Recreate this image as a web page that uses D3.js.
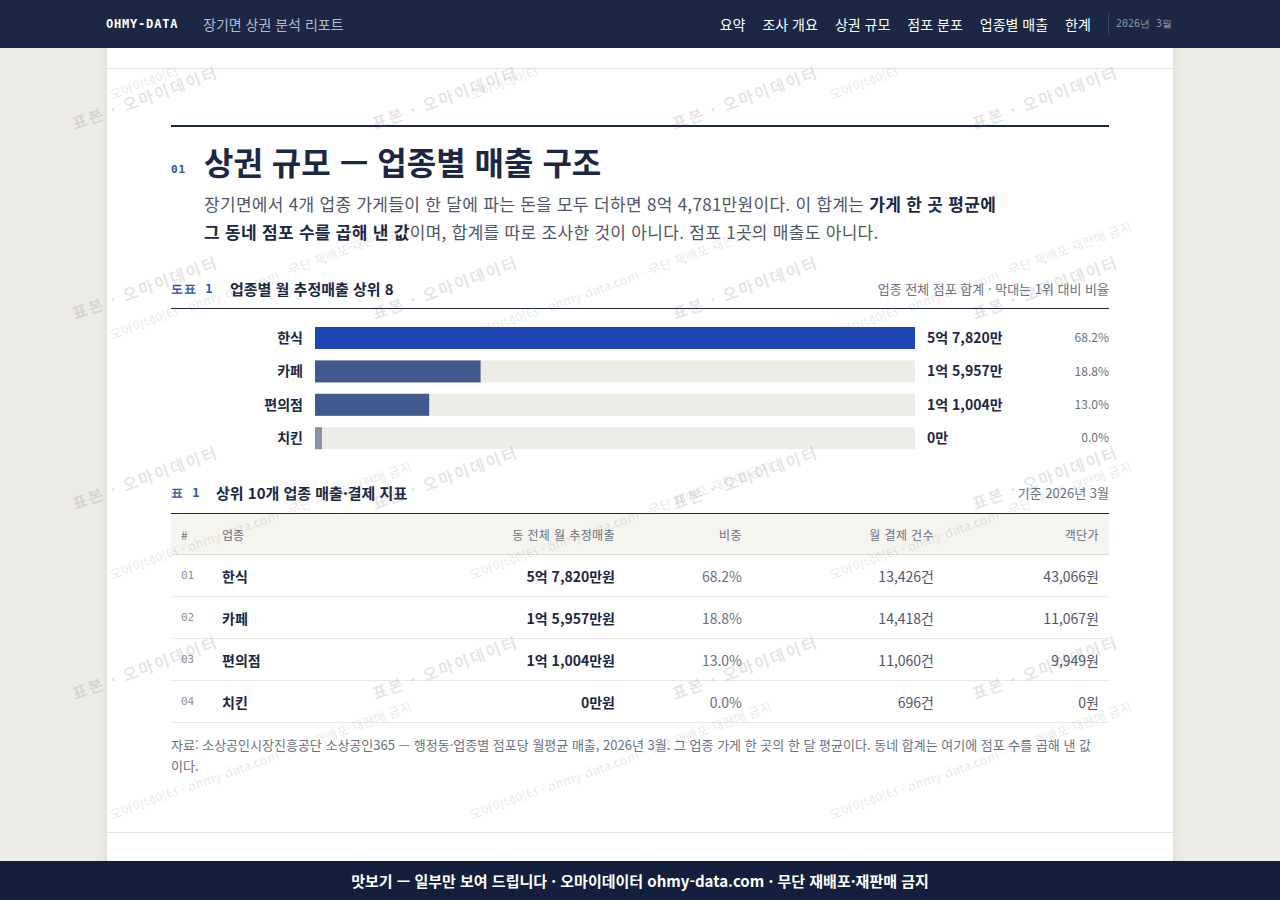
<!DOCTYPE html>
<html lang="ko">
<head>
<meta charset="utf-8">
<title>장기면 상권 분석 리포트</title>
<script src="https://cdn.jsdelivr.net/npm/d3@7"></script>
<style>
  body { margin: 0; width: 1280px; height: 900px; overflow: hidden; position: relative;
         background: #edebe6; font-family: "Noto Sans CJK KR", "Noto Sans", sans-serif; color: #1b2744; }
  .abs { position: absolute; }
  .mono { font-family: "DejaVu Sans Mono", monospace; }
  .topbar { left: 0; top: 0; width: 1280px; height: 48px; background: #1b2744; z-index: 10; }
  .brand { left: 106px; top: 0; line-height: 48px; font-weight: bold; font-size: 12px; letter-spacing: 0.8px; color: #fff; }
  .subtitle { left: 203px; top: 0; line-height: 48px; font-size: 14px; color: #b3bacb; }
  .nav { right: 108px; top: 0; height: 48px; display: flex; align-items: center; gap: 17px; font-size: 14px; color: #fff; }
  .nav .sep { width: 1px; height: 22px; background: #3b4868; margin-right: -10px; }
  .nav .date { font-size: 10px; color: #8c95aa; }
  .sheet { left: 107px; top: 48px; width: 1066px; height: 852px; background: #fff; box-shadow: 0 0 8px rgba(0,0,0,0.07); }
  .hair { height: 1px; background: #e6e3dc; }
  .rule { background: #1b2744; }
  .secno { left: 171px; top: 161px; font-size: 11px; font-weight: bold; color: #2b50b8; line-height: 18px; letter-spacing: 1px; }
  .title { left: 204px; top: 140px; font-size: 32px; font-weight: bold; line-height: 42px; color: #1b2744; margin: 0; white-space: nowrap; }
  .lead { left: 204px; top: 190px; width: 802px; font-size: 17px; line-height: 28px; letter-spacing: 0.3px; color: #50566a; margin: 0; word-break: keep-all; }
  .lead b { color: #1b2744; }
  .cap { font-size: 15px; font-weight: bold; line-height: 20px; color: #1b2744; }
  .capno { font-size: 12px; font-weight: bold; color: #2b50b8; letter-spacing: 1px; line-height: 20px; }
  .capnote { font-size: 13px; color: #6b7180; line-height: 20px; text-align: right; }
  table { border-collapse: collapse; width: 938px; border-top: 1px solid #1b2744; table-layout: fixed; }
  th { height: 40px; background: #f5f4ef; border-bottom: 1px solid #dedbd2; font-size: 12px; font-weight: normal; color: #6b7180; padding: 0 10px; }
  td { height: 41px; border-bottom: 1px solid #ebe8e2; font-size: 14px; padding: 0 10px; }
  .num { text-align: right; }
  .foot { left: 171px; top: 734px; width: 924px; font-size: 13px; line-height: 21px; color: #6b7180; margin: 0; }
  .footer { left: 0; top: 861px; width: 1280px; height: 39px; background: #141f3d; z-index: 10;
            color: #fff; font-size: 15px; font-weight: bold; line-height: 39px; text-align: center; }
  #watermark { left: 0; top: 48px; z-index: 5; pointer-events: none; }
</style>
</head>
<body>
<div class="abs sheet"></div>
<div class="abs topbar">
  <div class="abs brand mono">OHMY-DATA</div>
  <div class="abs subtitle">장기면 상권 분석 리포트</div>
  <div class="abs nav" id="nav"></div>
</div>

<div class="abs hair" style="left:107px; top:68px; width:1066px;"></div>
<div class="abs rule" style="left:171px; top:125px; width:938px; height:2px;"></div>
<div class="abs secno mono">01</div>
<h1 class="abs title">상권 규모 — 업종별 매출 구조</h1>
<p class="abs lead">장기면에서 4개 업종 가게들이 한 달에 파는 돈을 모두 더하면 8억 4,781만원이다. 이 합계는 <b>가게 한 곳 평균에 그 동네 점포 수를 곱해 낸 값</b>이며, 합계를 따로 조사한 것이 아니다. 점포 1곳의 매출도 아니다.</p>

<div class="abs capno mono" style="left:171px; top:279px;">도표 1</div>
<div class="abs cap" style="left:230px; top:279px;">업종별 월 추정매출 상위 8</div>
<div class="abs capnote" style="left:709px; top:279px; width:400px;">업종 전체 점포 합계 · 막대는 1위 대비 비율</div>
<div class="abs rule" style="left:171px; top:308px; width:938px; height:1px;"></div>
<div class="abs" id="chart" style="left:171px; top:309px;"></div>

<div class="abs capno mono" style="left:171px; top:483px;">표 1</div>
<div class="abs cap" style="left:216px; top:483px;">상위 10개 업종 매출·결제 지표</div>
<div class="abs capnote" style="left:709px; top:483px; width:400px;">기준 2026년 3월</div>
<div class="abs" id="table" style="left:171px; top:513px;"></div>

<p class="abs foot">자료: 소상공인시장진흥공단 소상공인365 — 행정동·업종별 점포당 월평균 매출, 2026년 3월. 그 업종 가게 한 곳의 한 달 평균이다. 동네 합계는 여기에 점포 수를 곱해 낸 값이다.</p>
<div class="abs hair" style="left:107px; top:832px; width:1066px;"></div>

<div class="abs footer">맛보기 — 일부만 보여 드립니다 · 오마이데이터 ohmy-data.com · 무단 재배포·재판매 금지</div>
<svg class="abs" id="watermark" width="1280" height="813"></svg>

<script>
// Chart data (매출 in 만원)
const categories = ["한식", "카페", "편의점", "치킨"];
const salesMan = [57820, 15957, 11004, 0];
const shares = [68.2, 18.8, 13.0, 0.0];
const payCounts = [13426, 14418, 11060, 696];
const unitPrices = [43066, 11067, 9949, 0];
const navItems = ["요약", "조사 개요", "상권 규모", "점포 분포", "업종별 매출", "한계"];
const tableHeaders = ["#", "업종", "동 전체 월 추정매출", "비중", "월 결제 건수", "객단가"];

const comma = d3.format(",");

// 57820 -> "5억 7,820만"
function formatMan(v) {
    const eok = Math.floor(v / 10000);
    const man = v % 10000;
    return eok > 0 ? `${eok}억 ${comma(man)}만` : `${comma(man)}만`;
}

// Header nav
const nav = d3.select("#nav");
nav.selectAll("span.item")
    .data(navItems)
    .enter()
    .append("span")
    .attr("class", "item")
    .text(d => d);
nav.append("span").attr("class", "sep");
nav.append("span").attr("class", "date mono").text("2026년 3월");

// Bar chart
const width = 938;
const height = 150;
const barLeft = 144;          // bar start, relative to chart
const barRight = 744;         // full-length bar end
const rows = categories.map((c, i) => ({ name: c, value: salesMan[i], share: shares[i], rank: i }));

const x = d3.scaleLinear()
    .domain([0, d3.max(salesMan)])
    .range([0, barRight - barLeft]);

// 22px bars on a ~33.4px step, first bar 18px under the rule
const y = d3.scaleBand()
    .domain(categories)
    .range([18, 140.2])
    .paddingInner(0.341)
    .paddingOuter(0);

const svg = d3.select("#chart")
    .append("svg")
    .attr("width", width)
    .attr("height", height)
    .style("font-family", "'Noto Sans CJK KR', sans-serif");

const row = svg.selectAll("g.row")
    .data(rows)
    .enter()
    .append("g")
    .attr("class", "row")
    .attr("transform", d => `translate(0, ${y(d.name)})`);

// background track
row.append("rect")
    .attr("x", barLeft)
    .attr("width", barRight - barLeft)
    .attr("height", y.bandwidth())
    .attr("fill", "#eeece7");

// value bar
row.append("rect")
    .attr("x", barLeft)
    .attr("width", d => Math.max(x(d.value), 7))
    .attr("height", y.bandwidth())
    .attr("fill", d => d.rank === 0 ? "#1c46b5" : (d.value === 0 ? "#8a92a7" : "#42598f"));

// category label
row.append("text")
    .attr("x", barLeft - 12)
    .attr("y", y.bandwidth() / 2)
    .attr("dy", "0.35em")
    .attr("text-anchor", "end")
    .attr("font-size", 14)
    .attr("font-weight", "bold")
    .attr("fill", "#1b2744")
    .text(d => d.name);

// value label
row.append("text")
    .attr("x", barRight + 12)
    .attr("y", y.bandwidth() / 2)
    .attr("dy", "0.35em")
    .attr("font-size", 14)
    .attr("font-weight", "bold")
    .attr("fill", "#1b2744")
    .text(d => formatMan(d.value));

// share label
row.append("text")
    .attr("x", width)
    .attr("y", y.bandwidth() / 2)
    .attr("dy", "0.35em")
    .attr("text-anchor", "end")
    .attr("font-size", 12)
    .attr("fill", "#6b7180")
    .text(d => d.share.toFixed(1) + "%");

// Table
const table = d3.select("#table").append("table");
const colWidths = [41, 180, 233, 127, 192, 165];
table.append("colgroup")
    .selectAll("col")
    .data(colWidths)
    .enter()
    .append("col")
    .style("width", d => d + "px");

table.append("thead").append("tr")
    .selectAll("th")
    .data(tableHeaders)
    .enter()
    .append("th")
    .style("text-align", (d, i) => i >= 2 ? "right" : "left")
    .style("letter-spacing", (d, i) => i >= 2 ? "0.4px" : null)
    .text(d => d);

const tr = table.append("tbody")
    .selectAll("tr")
    .data(rows)
    .enter()
    .append("tr");

tr.append("td").attr("class", "mono")
    .style("font-size", "11px").style("color", "#8a8f9b")
    .text(d => String(d.rank + 1).padStart(2, "0"));
tr.append("td").style("font-weight", "bold").style("color", "#1b2744")
    .text(d => d.name);
tr.append("td").attr("class", "num").style("font-weight", "bold").style("color", "#1b2744")
    .text(d => formatMan(d.value) + "원");
tr.append("td").attr("class", "num").style("color", "#6b7180")
    .text(d => d.share.toFixed(1) + "%");
tr.append("td").attr("class", "num").style("color", "#50566a")
    .text(d => comma(payCounts[d.rank]) + "건");
tr.append("td").attr("class", "num").style("color", "#50566a")
    .text(d => comma(unitPrices[d.rank]) + "원");

// Watermark overlay (tiled, rotated text); svg starts under the top bar
const wm = d3.select("#watermark");
const offsetY = 48;
const bigMarks = [];
for (let gx = 75; gx < 1100; gx += 300) {
    for (let gy = 130; gy < 860; gy += 190) bigMarks.push([gx, gy - offsetY]);
}
wm.selectAll("text.big")
    .data(bigMarks)
    .enter()
    .append("text")
    .attr("class", "big")
    .attr("transform", d => `translate(${d[0]},${d[1]}) rotate(-20)`)
    .attr("font-size", 16)
    .attr("font-weight", "bold")
    .attr("letter-spacing", 2)
    .attr("fill", "rgba(90,90,90,0.17)")
    .text("표본 · 오마이데이터");

const smallMarks = [];
for (let gx = 112; gx < 1000; gx += 360) {
    for (let gy = 340; gy < 860; gy += 240) smallMarks.push([gx, gy - offsetY]);
}
wm.selectAll("text.small")
    .data(smallMarks)
    .enter()
    .append("text")
    .attr("class", "small")
    .attr("transform", d => `translate(${d[0]},${d[1]}) rotate(-20)`)
    .attr("font-size", 13)
    .attr("fill", "rgba(90,90,90,0.15)")
    .text("오마이데이터 · ohmy-data.com · 무단 재배포·재판매 금지");

// top row: only the short mark fits below the bar
wm.selectAll("text.top")
    .data([112, 472, 832])
    .enter()
    .append("text")
    .attr("class", "top")
    .attr("transform", d => `translate(${d},${100 - offsetY}) rotate(-20)`)
    .attr("font-size", 13)
    .attr("fill", "rgba(90,90,90,0.15)")
    .text("오마이데이터");
</script>
</body>
</html>
